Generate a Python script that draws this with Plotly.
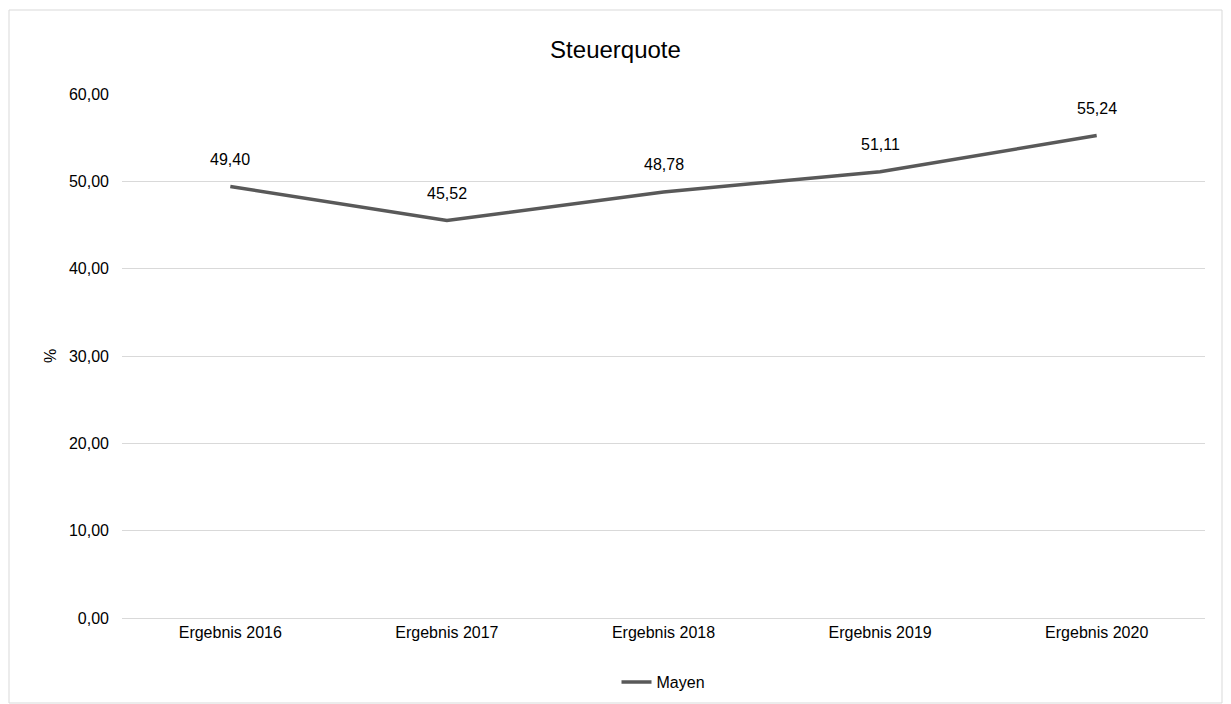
import plotly.graph_objects as go

categories = ["Ergebnis 2016", "Ergebnis 2017", "Ergebnis 2018", "Ergebnis 2019", "Ergebnis 2020"]
values = [49.40, 45.52, 48.78, 51.11, 55.24]
series_name = "Mayen"
y_ticks = [0, 10, 20, 30, 40, 50, 60]

def de(v):
    return f"{v:.2f}".replace(".", ",")

FONT = "Liberation Sans, Arial"

fig = go.Figure()
fig.add_trace(go.Scatter(
    x=categories, y=values, mode="lines", name=series_name,
    line=dict(color="#595959", width=3.5),
    hoverinfo="skip",
))

for c, v in zip(categories, values):
    fig.add_annotation(x=c, y=v, text=de(v), showarrow=False, yshift=27,
                       font=dict(family=FONT, size=16, color="#000000"))

fig.update_layout(
    width=1231, height=704,
    paper_bgcolor="white", plot_bgcolor="white",
    margin=dict(l=122, r=26, t=94, b=86, autoexpand=False),
    separators=",.",
    title=dict(text="Steuerquote", x=0.5, xanchor="center", y=1 - 50/704, yanchor="middle",
               font=dict(family=FONT, size=24, color="#000000")),
    font=dict(family=FONT, size=16, color="#000000"),
    showlegend=True,
    legend=dict(orientation="h", x=0.5, xanchor="center", y=-(682-618)/524, yanchor="middle",
                font=dict(size=16)),
    xaxis=dict(type="category", range=[-0.5, 4.5], showgrid=False, showline=True,
               linecolor="#d9d9d9", linewidth=1, ticks="", tickfont=dict(size=16),
               fixedrange=True, automargin=False),
    yaxis=dict(range=[0, 60], tickvals=y_ticks, tickformat=".2f", showgrid=True,
               gridcolor="#d9d9d9", gridwidth=1, zeroline=False, showline=False,
               ticklabelstandoff=12, tickfont=dict(size=16), automargin=False,
               title=dict(text="%", font=dict(size=16), standoff=8)),
    shapes=[dict(type="rect", xref="paper", yref="paper",
                 x0=-(122-9)/1083, x1=1+(1222-1205)/1083, y0=-(703-618)/524, y1=1+(94-10)/524,
                 line=dict(color="#d9d9d9", width=1), layer="below")],
)

fig.write_html("out.html")
